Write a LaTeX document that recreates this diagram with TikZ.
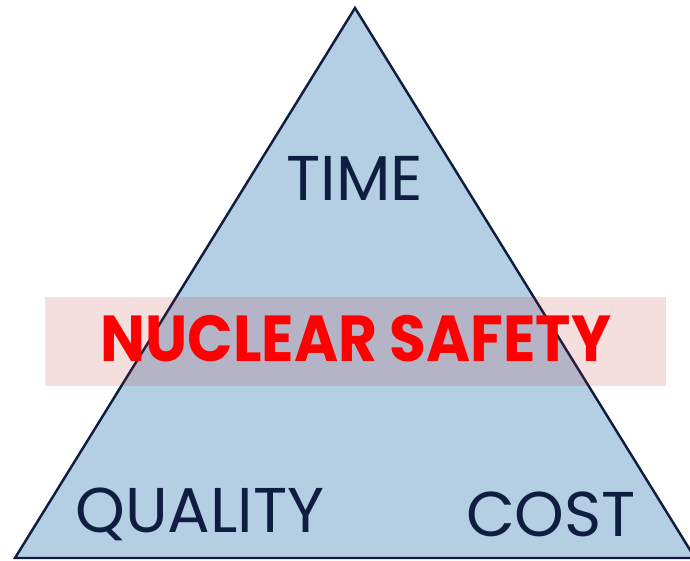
\documentclass[tikz,border=0pt]{standalone}
\usepackage{fontspec}
\setmainfont{Poppins}
\definecolor{navy}{HTML}{0F1E40}
\definecolor{triblue}{HTML}{B4CEE4}
\definecolor{bandred}{RGB}{188,35,35}
\begin{document}
\begin{tikzpicture}[x=0.02cm,y=-0.02cm]
    \tikzstyle{corner}=[text=navy, font=\fontsize{36}{40}\selectfont, inner sep=0pt]
    \tikzstyle{band}=[text=red, font=\fontsize{37}{40}\selectfont\bfseries, inner sep=0pt, xscale=0.92]
    \useasboundingbox (0,0) rectangle (690,561);
    \filldraw[fill=triblue, draw=navy, line width=1.4pt, line join=miter] (15,558) -- (355,8) -- (695,558) -- cycle;
    \fill[bandred, fill opacity=0.15] (45,297) rectangle (666,386);
    \node[corner] (time) at (355,178){TIME};
    \node[corner] (quality) at (200,514){QUALITY};
    \node[corner] (cost) at (551,514){COST};
    \node[band] (safety) at (356,339){NUCLEAR SAFETY};
  \end{tikzpicture}
\end{document}
